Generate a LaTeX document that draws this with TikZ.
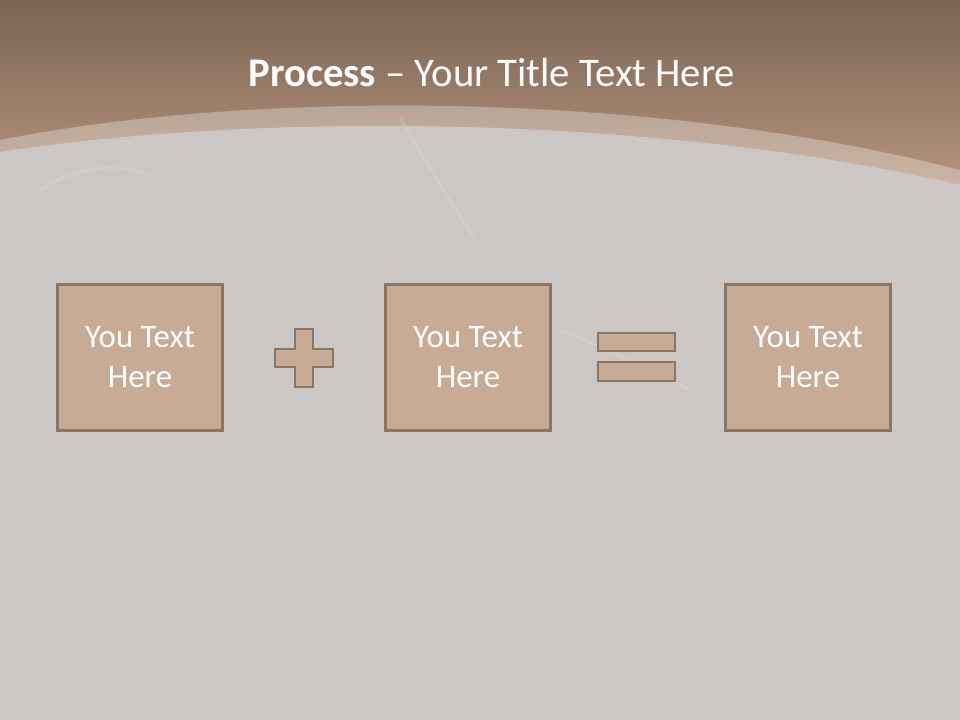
\documentclass[tikz,border=0pt]{standalone}
\usepackage{fontspec}
\setmainfont{Carlito}
\usetikzlibrary{positioning}

\definecolor{topbrown}{HTML}{7A6453}
\definecolor{lowbrown}{HTML}{BA9880}
\definecolor{slidegray}{HTML}{CBC7C4}
\definecolor{boxfill}{HTML}{C7AB95}
\definecolor{boxline}{HTML}{8B7565}

\begin{document}
\begin{tikzpicture}[x=0.75pt, y=-0.75pt,
    textbox/.style={draw=boxline, fill=boxfill, line width=2.1pt,
        minimum width=124pt, minimum height=110pt, inner sep=0pt,
        text=white, align=center, font=\fontsize{24.6}{30}\selectfont},
    signpart/.style={draw=boxline, fill=boxfill, line width=2.1pt},
    smoke/.style={white, opacity=0.12, line width=2pt}]
    \useasboundingbox (0,0) rectangle (960,720);

    % Hintergrund: Kopfleiste und graue Flaeche
    \shade[top color=topbrown, bottom color=lowbrown] (0,0) rectangle (960,200);
    \fill[white, opacity=0.3] (0,140) .. controls (250,90) and (650,90) .. (960,170)
        -- (960,720) -- (0,720) -- cycle;
    \fill[slidegray] (0,152) .. controls (250,113) and (650,113) .. (960,185)
        -- (960,720) -- (0,720) -- cycle;

    % leichte Rauchschlieren
    \draw[smoke] (400,118) .. controls (430,170) and (450,200) .. (475,240);
    \draw[smoke] (40,190) .. controls (70,170) and (110,160) .. (150,175);
    \draw[smoke] (560,330) .. controls (600,345) and (640,365) .. (690,390);

    % Titel
    \node[anchor=base, text=white, font=\fontsize{30.5}{36}\selectfont] (title) at (492,87)
        {\textbf{Process} -- Your Title Text Here};

    % Kaesten
    \node[textbox] (first)  at (140,357.5) {You Text\\Here};
    \node[textbox] (second) at (468,357.5) {You Text\\Here};
    \node[textbox] (third)  at (808,357.5) {You Text\\Here};

    % Pluszeichen
    \draw[signpart] (295,329) -- (313,329) -- (313,349) -- (333,349) -- (333,367)
        -- (313,367) -- (313,387) -- (295,387) -- (295,367) -- (275,367)
        -- (275,349) -- (295,349) -- cycle;

    % Gleichheitszeichen
    \draw[signpart] (598,333) rectangle (675,351);
    \draw[signpart] (598,362) rectangle (675,381);
\end{tikzpicture}
\end{document}
